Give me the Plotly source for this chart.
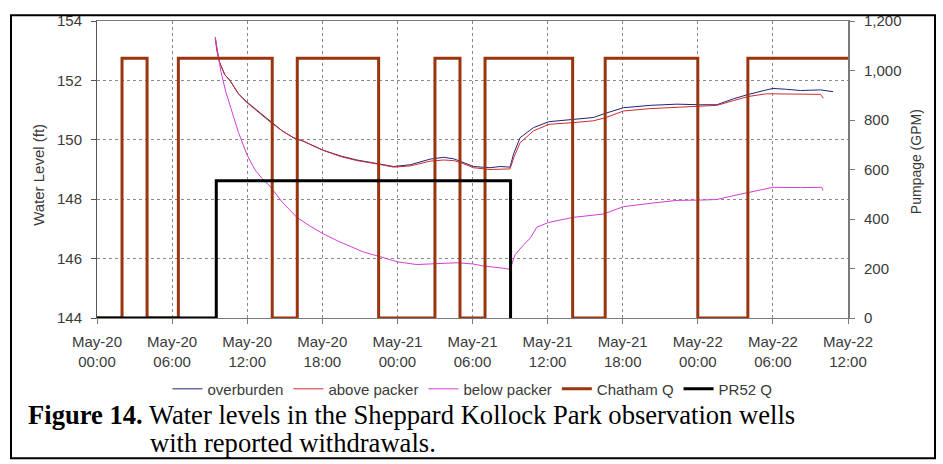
import pandas as pd
import plotly.graph_objects as go

# ---------------- data (hours after May-20 00:00) ----------------
ob_hours = [9.45, 9.6, 9.8, 10.2, 10.65, 11.3, 11.98, 12.9, 13.84, 14.8, 15.7, 16.5, 18.05, 19.5,
            20.77, 22.36, 23.69, 25.02, 26.0, 26.62, 27.68, 28.5, 29.0, 30.08, 31.4, 32.2, 33.0,
            33.28, 33.8, 34.87, 36.1, 38.07, 39.66, 40.6, 42.06, 44.19, 46.32, 48.2, 49.52,
            50.85, 52.05, 53.5, 54.0, 55.1, 56.2, 57.8, 58.8]
ob_level = [153.45, 153.0, 152.6, 152.2, 151.98, 151.55, 151.27, 150.95, 150.61, 150.3, 150.07,
            149.95, 149.65, 149.45, 149.32, 149.21, 149.10, 149.16, 149.28, 149.35, 149.41, 149.36,
            149.28, 149.10, 149.06, 149.10, 149.08, 149.52, 150.07, 150.41, 150.61, 150.69, 150.75,
            150.89, 151.08, 151.16, 151.20, 151.18, 151.18, 151.38, 151.53, 151.68, 151.73,
            151.70, 151.66, 151.68, 151.62]

ap_hours = [9.45, 9.6, 9.8, 10.2, 10.65, 11.3, 11.98, 12.9, 13.84, 14.8, 15.7, 16.5, 18.05, 19.5,
            20.77, 22.36, 23.69, 25.02, 26.0, 26.62, 27.68, 28.5, 29.0, 30.08, 31.4, 32.2, 33.0,
            33.3, 33.8, 34.87, 36.1, 38.07, 39.66, 40.6, 42.06, 44.19, 46.32, 48.2, 49.52,
            50.85, 52.05, 53.5, 54.7, 56.2, 57.8, 58.03]
ap_level = [153.40, 152.95, 152.6, 152.2, 151.98, 151.55, 151.25, 150.93, 150.6, 150.3, 150.07,
            149.95, 149.65, 149.43, 149.30, 149.19, 149.08, 149.12, 149.22, 149.28, 149.32, 149.30,
            149.24, 149.06, 149.00, 149.02, 149.02, 149.4, 149.90, 150.30, 150.52, 150.58, 150.64,
            150.74, 150.97, 151.05, 151.10, 151.13, 151.16, 151.32, 151.46, 151.55, 151.55,
            151.53, 151.53, 151.40]

bp_hours = [9.45, 9.65, 9.9, 10.3, 10.65, 11.3, 11.98, 12.6, 13.18, 13.84, 14.8, 15.97, 17.0,
            18.05, 19.2, 20.23, 21.3, 22.49, 24.0, 25.55, 27.08, 28.75, 30.03, 30.88, 32.21, 33.0,
            33.4, 34.07, 34.6, 35.14, 36.1, 38.07, 40.46, 42.06, 44.19, 46.32, 48.2, 49.52, 50.85,
            52.05, 53.5, 54.0, 56.2, 57.9, 58.0]
bp_level = [153.45, 152.9, 152.3, 151.6, 151.1, 150.25, 149.5, 149.0, 148.7, 148.43, 147.9,
            147.39, 147.1, 146.84, 146.6, 146.40, 146.22, 146.08, 145.89, 145.80, 145.82, 145.86,
            145.82, 145.75, 145.69, 145.64, 146.13, 146.46, 146.68, 147.06, 147.22, 147.39, 147.50,
            147.75, 147.86, 147.96, 147.97, 147.99, 148.12, 148.23, 148.37, 148.40, 148.39,
            148.40, 148.29]

chatham_hours = [0, 2, 4, 6.5, 14, 16, 22.5, 27, 29, 31, 38, 40.6, 48, 52, 60]
chatham_q = [0, 1050, 0, 1050, 0, 1050, 0, 1050, 0, 1050, 0, 1050, 0, 1050, 1050]

pr52_hours = [0, 9.53, 33.04]
pr52_q = [0, 555, 0]

x_tick_hours = [0, 6, 12, 18, 24, 30, 36, 42, 48, 54, 60]

base = pd.Timestamp("2008-05-20 00:00")


def t(hours):
    return [base + pd.Timedelta(hours=h) for h in hours]


# ---------------- figure ----------------
W, H = 943, 464
L, R, T, B = 97, 848, 13, 318  # plot area in px


def px(xp):
    return (xp - L) / (R - L)


def py(yp):
    return (B - yp) / (B - T)


fig = go.Figure()
fig.add_trace(go.Scatter(x=t(ob_hours), y=ob_level, name="overburden", mode="lines",
                         line=dict(color="#23237a", width=1)))
fig.add_trace(go.Scatter(x=t(ap_hours), y=ap_level, name="above packer", mode="lines",
                         line=dict(color="#d02c2c", width=1)))
fig.add_trace(go.Scatter(x=t(bp_hours), y=bp_level, name="below packer", mode="lines",
                         line=dict(color="#d23fd2", width=1)))
fig.add_trace(go.Scatter(x=t(chatham_hours), y=chatham_q, name="Chatham Q", mode="lines",
                         line=dict(color="#9a3510", width=3, shape="hv"), yaxis="y2"))
fig.add_trace(go.Scatter(x=t(pr52_hours), y=pr52_q, name="PR52 Q", mode="lines",
                         line=dict(color="#000000", width=3, shape="hv"), yaxis="y2"))

tickfont = dict(family="Liberation Sans, Arial", size=15, color="#3a3a3a")
gridcol = "#8a8a8a"

fig.update_layout(
    width=W, height=H,
    margin=dict(l=L, r=W - R, t=T, b=H - B),
    paper_bgcolor="white", plot_bgcolor="white",
    showlegend=True,
    legend=dict(orientation="h", x=0.5, xanchor="center", y=py(391), yanchor="middle",
                font=dict(family="Liberation Sans, Arial", size=15, color="#3a3a3a"),
                bgcolor="rgba(0,0,0,0)", itemwidth=30, tracegroupgap=0),
    xaxis=dict(type="date", range=[base, base + pd.Timedelta(hours=60)],
               tickvals=t(x_tick_hours), tickformat="%b-%d<br>%H:%M",
               showgrid=True, gridcolor=gridcol, griddash="3px,3px", gridwidth=1,
               showline=True, linecolor="#7a7a7a", linewidth=1, mirror=True,
               ticks="outside", ticklen=5, tickcolor="#7a7a7a",
               tickfont=tickfont, zeroline=False, ticklabelstandoff=5),
    yaxis=dict(range=[144, 154], dtick=2, tick0=144,
               showgrid=True, gridcolor=gridcol, griddash="3px,3px", gridwidth=1,
               showline=True, linecolor="#555555", linewidth=1,
               ticks="outside", ticklen=5, tickcolor="#555555",
               tickfont=tickfont, zeroline=False, ticklabelstandoff=6),
    yaxis2=dict(range=[0, 1200], dtick=200, tick0=0, tickformat=",",
                overlaying="y", side="right", showgrid=False,
                showline=True, linecolor="#7a7a7a", linewidth=2,
                ticks="outside", ticklen=5, tickcolor="#7a7a7a",
                tickfont=tickfont, zeroline=False, ticklabelstandoff=6),
)

# axis titles
fig.add_annotation(text="Water Level (ft)", xref="paper", yref="paper", x=px(39), y=py(171),
                   textangle=-90, showarrow=False, xanchor="center", yanchor="middle",
                   font=dict(family="Liberation Sans, Arial", size=15, color="#3a3a3a"))
fig.add_annotation(text="Pumpage (GPM)", xref="paper", yref="paper", x=px(916), y=py(158),
                   textangle=-90, showarrow=False, xanchor="center", yanchor="middle",
                   font=dict(family="Liberation Sans, Arial", size=14, color="#3a3a3a"))

# caption
capfont = dict(family="Liberation Serif, Times New Roman", size=26.6, color="black")
fig.add_annotation(text="<b>Figure 14.</b> Water levels in the Sheppard Kollock Park observation wells",
                   xref="paper", yref="paper", x=px(26), y=py(418), xanchor="left", yanchor="middle",
                   showarrow=False, font=capfont)
fig.add_annotation(text="with reported withdrawals.",
                   xref="paper", yref="paper", x=px(148), y=py(446), xanchor="left", yanchor="middle",
                   showarrow=False, font=capfont)

# outer frame
fig.add_shape(type="rect", xref="paper", yref="paper", x0=px(11), x1=px(935), y0=py(462), y1=py(7),
              line=dict(color="black", width=2), fillcolor="rgba(0,0,0,0)", layer="above")

fig.write_html("out.html")
